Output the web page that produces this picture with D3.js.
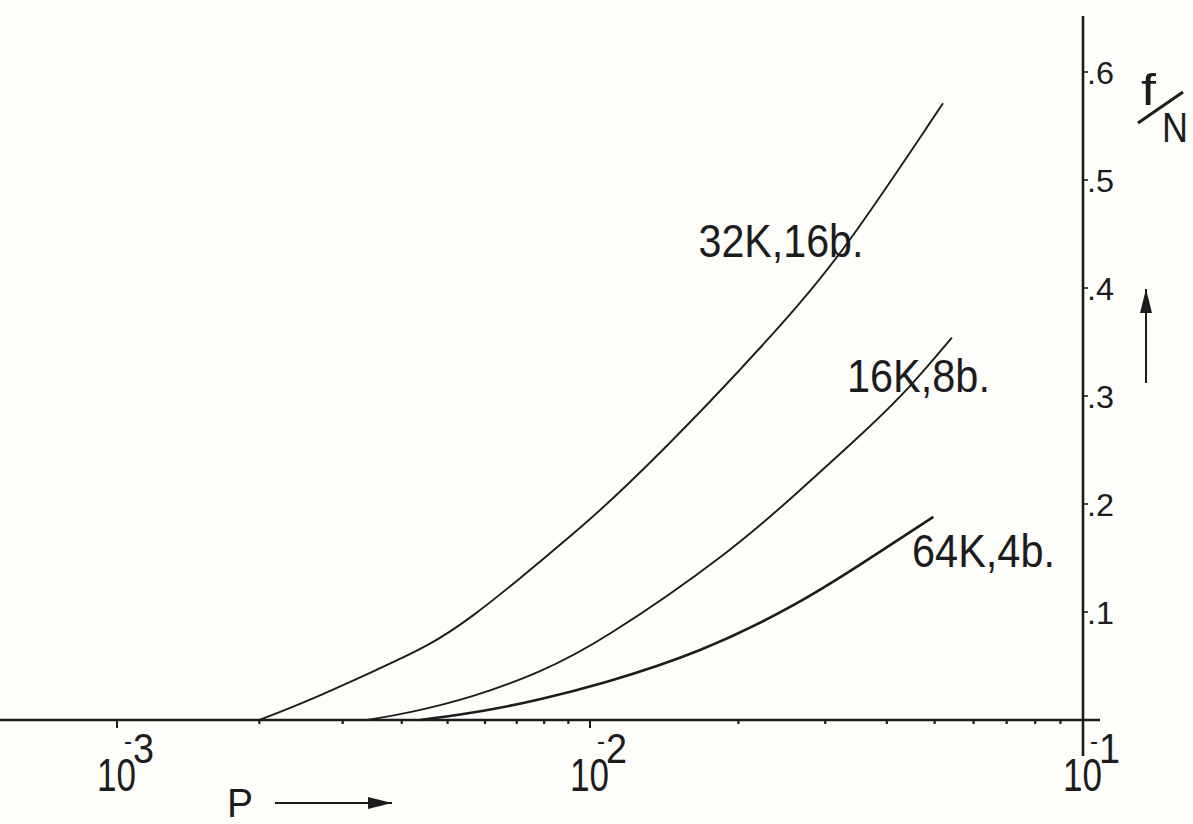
<!DOCTYPE html>
<html>
<head>
<meta charset="utf-8">
<script src="https://cdn.jsdelivr.net/npm/d3@7"></script>
<style>
  body { margin: 0; background: #fdfdfa; }
  svg { display: block; }
  text { font-family: "Liberation Sans", Arial, sans-serif; fill: #1c1c1c; }
</style>
</head>
<body>
<div class="canvas_area"></div>
<script>
// CURVES  [P, f/N]
const curve32K = [[0.0020,0],[0.00252,0.017],[0.00348,0.045],[0.00459,0.069],[0.00566,0.096],
                  [0.00711,0.131],[0.0092,0.172],[0.0115,0.210],[0.0177,0.296],[0.0249,0.370],
                  [0.0322,0.429],[0.052,0.571]];
const curve16K = [[0.00338,0],[0.0041,0.006],[0.00566,0.021],[0.00784,0.044],[0.0105,0.072],
                  [0.0195,0.157],[0.0267,0.213],[0.0365,0.269],[0.0446,0.308],[0.0542,0.354]];
const curve64K = [[0.00437,0],[0.0060,0.008],[0.00784,0.019],[0.0105,0.033],[0.0167,0.062],
                  [0.0267,0.108],[0.0365,0.148],[0.0497,0.188]];
const seriesNames = ["32K,16b.", "16K,8b.", "64K,4b."];
// label anchors (P, f/N)
const labelP = [0.0166, 0.0332, 0.045];
const labelF = [0.429, 0.304, 0.142];

// AXES
const yTicks = [0.1, 0.2, 0.3, 0.4, 0.5, 0.6];
const yTickLabels = [".1", ".2", ".3", ".4", ".5", ".6"];
const xMajor = [1e-3, 1e-2, 1e-1];
const xExponents = ["3", "2", "1"];
const xMinor = [2e-3,3e-3,4e-3,5e-3,6e-3,7e-3,8e-3,9e-3,2e-2,3e-2,4e-2,5e-2,6e-2,7e-2,8e-2,9e-2];

const svgwidth = 1193, svgheight = 824;
const ink = "#1c1c1c";

const svg = d3.select(".canvas_area").append("svg")
    .attr("width", svgwidth).attr("height", svgheight);

// hand drawn log axis, decades are not quite equal
const X = d3.scaleLog().domain([1e-3, 1e-2, 1e-1]).range([117, 590, 1083]);
const Y = d3.scaleLinear().domain([0, 0.6]).range([720, 72]);

const defs = svg.append("defs");
defs.append("marker").attr("id", "head")
    .attr("viewBox", "0 0 20 10").attr("refX", 20).attr("refY", 5)
    .attr("markerUnits", "userSpaceOnUse")
    .attr("markerWidth", 24).attr("markerHeight", 12).attr("orient", "auto")
  .append("path").attr("d", "M0,0 L20,5 L0,10 Z").attr("fill", ink);

// X AXIS
svg.append("line")
    .attr("x1", 0).attr("x2", 1100)
    .attr("y1", Y(0)).attr("y2", Y(0))
    .attr("stroke", ink).attr("stroke-width", 2.6);

svg.selectAll(".x-major").data(xMajor).enter().append("line").classed("x-major", true)
    .attr("x1", d => X(d)).attr("x2", d => X(d))
    .attr("y1", Y(0)).attr("y2", Y(0) + 8)
    .attr("stroke", ink).attr("stroke-width", 2);

svg.selectAll(".x-minor").data(xMinor).enter().append("line").classed("x-minor", true)
    .attr("x1", d => X(d)).attr("x2", d => X(d))
    .attr("y1", Y(0)).attr("y2", Y(0) + 4)
    .attr("stroke", ink).attr("stroke-width", 2.2);

const xlab = svg.selectAll(".x-label").data(xMajor).enter().append("g").classed("x-label", true)
    .attr("transform", d => `translate(${X(d) - 20}, 0)`);
xlab.append("text")
    .attr("x", 0).attr("y", 791)
    .attr("font-size", 46)
    .attr("textLength", 39).attr("lengthAdjust", "spacingAndGlyphs")
    .text("10");
xlab.append("text")
    .attr("x", 27).attr("y", 750)
    .attr("font-size", 26)
    .attr("textLength", 8).attr("lengthAdjust", "spacingAndGlyphs")
    .text("-");
xlab.append("text")
    .attr("x", 36).attr("y", 763)
    .attr("font-size", 42)
    .attr("textLength", 21).attr("lengthAdjust", "spacingAndGlyphs")
    .text((d, i) => xExponents[i]);

// P label with arrow
svg.append("text")
    .attr("x", 227).attr("y", 817)
    .attr("font-size", 40)
    .attr("textLength", 26).attr("lengthAdjust", "spacingAndGlyphs")
    .text("P");
svg.append("line")
    .attr("x1", 275).attr("x2", 392).attr("y1", 803).attr("y2", 803)
    .attr("stroke", ink).attr("stroke-width", 2)
    .attr("marker-end", "url(#head)");

// Y AXIS
svg.append("line")
    .attr("x1", X(1e-1)).attr("x2", X(1e-1))
    .attr("y1", 16).attr("y2", 756)
    .attr("stroke", ink).attr("stroke-width", 2.6);

svg.selectAll(".y-tick").data(yTicks).enter().append("line").classed("y-tick", true)
    .attr("x1", X(1e-1)).attr("x2", X(1e-1) + 5)
    .attr("y1", d => Y(d)).attr("y2", d => Y(d))
    .attr("stroke", ink).attr("stroke-width", 1.6);

svg.selectAll(".y-label").data(yTicks).enter().append("text").classed("y-label", true)
    .attr("x", X(1e-1) + 4).attr("y", d => Y(d) + 12)
    .attr("font-size", 32)
    .attr("textLength", 27).attr("lengthAdjust", "spacingAndGlyphs")
    .text((d, i) => yTickLabels[i]);

// f/N label
svg.append("text")
    .attr("x", 1141).attr("y", 105)
    .attr("font-size", 44)
    .attr("textLength", 15).attr("lengthAdjust", "spacingAndGlyphs")
    .text("f");
svg.append("line")
    .attr("x1", 1138).attr("y1", 123).attr("x2", 1183).attr("y2", 92)
    .attr("stroke", ink).attr("stroke-width", 3);
svg.append("text")
    .attr("x", 1162).attr("y", 142)
    .attr("font-size", 42)
    .attr("textLength", 26).attr("lengthAdjust", "spacingAndGlyphs")
    .text("N");

// vertical arrow
svg.append("line")
    .attr("x1", 1146).attr("x2", 1146).attr("y1", 383).attr("y2", 289)
    .attr("stroke", ink).attr("stroke-width", 2)
    .attr("marker-end", "url(#head)");

// CURVES
const line = d3.line()
    .x(d => X(d[0]))
    .y(d => Y(d[1]))
    .curve(d3.curveBasis);

const curves = [curve32K, curve16K, curve64K];
const widths = [1.9, 1.9, 2.6];

svg.selectAll(".curve").data(curves).enter().append("path").classed("curve", true)
    .attr("d", line)
    .attr("fill", "none")
    .attr("stroke", ink)
    .attr("stroke-width", (d, i) => widths[i]);

const labelWidths = [165, 143, 143];
svg.selectAll(".curve-label").data(seriesNames).enter().append("text").classed("curve-label", true)
    .attr("x", (d, i) => X(labelP[i]))
    .attr("y", (d, i) => Y(labelF[i]))
    .attr("font-size", 46)
    .attr("textLength", (d, i) => labelWidths[i]).attr("lengthAdjust", "spacingAndGlyphs")
    .text(d => d);
</script>
</body>
</html>
